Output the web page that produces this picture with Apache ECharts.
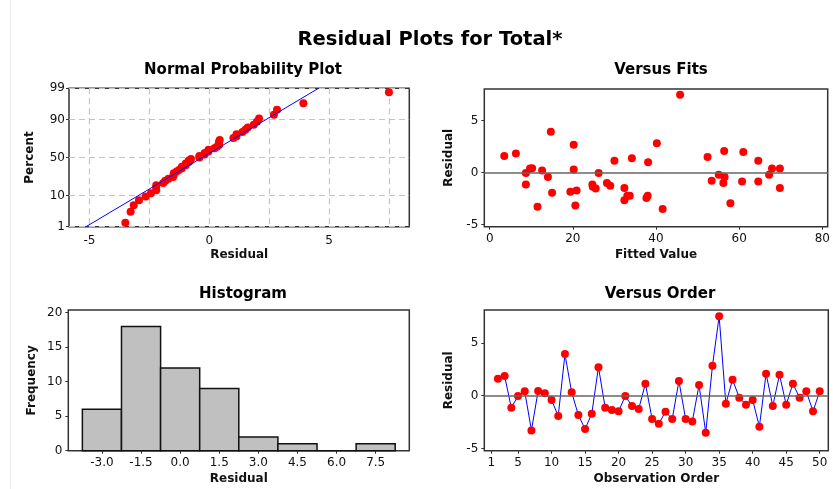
<!DOCTYPE html>
<html>
<head>
<meta charset="utf-8">
<script src="https://cdn.jsdelivr.net/npm/echarts@6/dist/echarts.min.js"></script>
<style>
  html, body { margin: 0; padding: 0; background: #fff; }
  #main { width: 833px; height: 489px; }
</style>
</head>
<body>
<div id="main"></div>
<script>
// observation numbers, residuals and fitted values
const obsOrder = [2, 3, 4, 5, 6, 7, 8, 9, 10, 11, 12, 13, 14, 15, 16, 17, 18, 19, 20, 21,
  22, 23, 24, 25, 26, 27, 28, 29, 30, 31, 32, 33, 34, 35, 36, 37, 38, 39, 40, 41,
  42, 43, 44, 45, 46, 47, 48, 49, 50];
const residuals = [1.61, 1.86, -1.14, -0.03, 0.41, -3.28, 0.44, 0.22, -0.41, -1.92,
  3.93, 0.32, -1.83, -3.15, -1.70, 2.70, -1.14, -1.36, -1.48, -0.03,
  -0.98, -1.26, 1.14, -2.21, -2.65, -1.51, -2.21, 1.39, -2.21, -2.43,
  1.01, -3.50, 2.83, 7.50, -0.76, 1.51, -0.19, -0.85, -0.41, -2.93,
  2.08, -0.98, 1.99, -0.85, 1.14, -0.19, 0.41, -1.48, 0.41];
const fitted = [3.5, 6.3, 8.7, 8.7, 9.7, 11.5, 10.2, 12.6, 14.0, 15.0,
  14.7, 20.2, 19.4, 20.6, 20.9, 20.2, 24.7, 24.8, 32.4, 26.2,
  28.2, 29.0, 30.0, 33.1, 32.4, 25.5, 33.7, 34.2, 38.0, 37.7,
  38.1, 41.6, 40.2, 45.8, 53.4, 52.4, 55.1, 60.7, 56.5, 57.9,
  56.4, 56.2, 61.0, 64.6, 64.6, 67.2, 67.9, 69.8, 69.8];

// histogram
const histBins = [-3.0, -1.5, 0.0, 1.5, 3.0, 4.5, 6.0, 7.5];
const histCounts = [6, 18, 12, 9, 2, 1, 0, 1];
const binWidth = 1.5;

// normal probability plot
const percentTicks = [1, 10, 50, 90, 99];
const normalLine = [[-5.14, 1], [4.56, 99]]; // fitted line ends, [residual, percent]

// tick labels
const normXTicks = [-5, 0, 5];
const normXGrid = [-5, -2.5, 0, 2.5, 5, 7.5];
const fitsXTicks = [0, 20, 40, 60, 80];
const resTicks = [-5, 0, 5];
const histYTicks = [0, 5, 10, 15, 20];
const orderTicks = [1, 5, 10, 15, 20, 25, 30, 35, 40, 45, 50];

// inverse normal cdf (Acklam)
function qnorm(p) {
  const a = [-39.69683028665376, 220.9460984245205, -275.9285104469687, 138.3577518672690, -30.66479806614716, 2.506628277459239];
  const b = [-54.47609879822406, 161.5858368580409, -155.6989798598866, 66.80131188771972, -13.28068155288572];
  const c = [-0.007784894002430293, -0.3223964580411365, -2.400758277161838, -2.549732539343734, 4.374664141464968, 2.938163982698783];
  const d = [0.007784695709041462, 0.3224671290700398, 2.445134137142996, 3.754408145803774];
  const pl = 0.02425;
  let q, r;
  if (p < pl) {
    q = Math.sqrt(-2 * Math.log(p));
    return (((((c[0] * q + c[1]) * q + c[2]) * q + c[3]) * q + c[4]) * q + c[5]) / ((((d[0] * q + d[1]) * q + d[2]) * q + d[3]) * q + 1);
  }
  if (p > 1 - pl) {
    q = Math.sqrt(-2 * Math.log(1 - p));
    return -(((((c[0] * q + c[1]) * q + c[2]) * q + c[3]) * q + c[4]) * q + c[5]) / ((((d[0] * q + d[1]) * q + d[2]) * q + d[3]) * q + 1);
  }
  q = p - 0.5; r = q * q;
  return (((((a[0] * r + a[1]) * r + a[2]) * r + a[3]) * r + a[4]) * r + a[5]) * q / (((((b[0] * r + b[1]) * r + b[2]) * r + b[3]) * r + b[4]) * r + 1);
}

const n = residuals.length;
const sorted = residuals.slice().sort((x, y) => x - y);
// median rank plotting positions
const normPoints = sorted.map((v, i) => [v, qnorm((i + 1 - 0.3) / (n + 0.4))]);
const zTicks = percentTicks.map(p => qnorm(p / 100));
const linePoints = normalLine.map(([x, p]) => [x, qnorm(p / 100)]);

const fitsPoints = fitted.map((f, i) => [f, residuals[i]]);
const orderPoints = obsOrder.map((o, i) => [o, residuals[i]]);
const histData = histBins.map((b, i) => [b, histCounts[i]]);

const font = 'DejaVu Sans, Verdana, sans-serif';
const txt = '#111';
const red = '#ff0000';
const blue = '#0000ff';

function gridBox(left, top, width, height) {
  return { left, top, width, height, show: true, borderColor: '#333', borderWidth: 1.5, backgroundColor: '#fff', containLabel: false };
}

function valueAxis(opt) {
  return {
    type: 'value',
    gridIndex: opt.grid,
    min: opt.min,
    max: opt.max,
    name: opt.name,
    nameLocation: 'middle',
    nameGap: opt.nameGap,
    nameTextStyle: { fontFamily: font, fontSize: 12, fontWeight: 'bold', color: txt },
    axisLine: { show: false, onZero: false },
    axisTick: { show: opt.tickShow !== false, length: 3, inside: false, customValues: opt.tickValues || opt.labels, lineStyle: { color: '#333' } },
    axisLabel: {
      customValues: opt.labels,
      fontFamily: font, fontSize: 12, color: txt, margin: opt.margin || 6,
      formatter: opt.formatter || (v => String(v))
    },
    splitLine: opt.split ? { show: true, lineStyle: { color: '#c4c4c4', type: [6, 4], width: 1.2 } } : { show: false }
  };
}

const chart = echarts.init(document.getElementById('main'), null, { renderer: 'canvas' });

const option = {
  animation: false,
  backgroundColor: '#fff',
  graphic: [
    { type: 'line', shape: { x1: 10.5, y1: 0, x2: 10.5, y2: 489 }, style: { stroke: '#ececec', lineWidth: 1 }, silent: true }
  ],
  title: [
    { text: 'Residual Plots for Total*', left: 425, top: 25, textAlign: 'center',
      textStyle: { fontFamily: font, fontSize: 19.5, fontWeight: 'bold', color: '#000' } },
    { text: 'Normal Probability Plot', left: 238, top: 58, textAlign: 'center',
      textStyle: { fontFamily: font, fontSize: 15, fontWeight: 'bold', color: '#000' } },
    { text: 'Versus Fits', left: 656, top: 58, textAlign: 'center',
      textStyle: { fontFamily: font, fontSize: 15, fontWeight: 'bold', color: '#000' } },
    { text: 'Histogram', left: 238, top: 282, textAlign: 'center',
      textStyle: { fontFamily: font, fontSize: 15, fontWeight: 'bold', color: '#000' } },
    { text: 'Versus Order', left: 655, top: 282, textAlign: 'center',
      textStyle: { fontFamily: font, fontSize: 15, fontWeight: 'bold', color: '#000' } }
  ],
  grid: [
    gridBox(69, 88.3, 340.3, 138.4),
    gridBox(484.3, 89, 343.4, 137.7),
    gridBox(68.3, 310, 341, 140.7),
    gridBox(484.3, 310, 344, 140.7)
  ],
  xAxis: [
    valueAxis({ grid: 0, min: -5.85, max: 8.35, name: 'Residual', nameGap: 22, labels: normXTicks, tickValues: normXGrid, tickShow: false, split: true, margin: 8 }),
    valueAxis({ grid: 1, min: -1.3, max: 81.3, name: 'Fitted Value', nameGap: 22, labels: fitsXTicks }),
    valueAxis({ grid: 2, min: -4.29, max: 8.79, name: 'Residual', nameGap: 22, labels: histBins, formatter: v => v.toFixed(1) }),
    valueAxis({ grid: 3, min: -0.03, max: 51.28, name: 'Observation Order', nameGap: 22, labels: orderTicks })
  ],
  yAxis: [
    valueAxis({ grid: 0, min: zTicks[0], max: zTicks[zTicks.length - 1], name: 'Percent', nameGap: 33, labels: zTicks, split: true, margin: 4,
      formatter: v => {
        const i = zTicks.findIndex(z => Math.abs(z - v) < 1e-6);
        return i >= 0 ? String(percentTicks[i]) : '';
      } }),
    valueAxis({ grid: 1, min: -5.19, max: 8.05, name: 'Residual', nameGap: 29, labels: resTicks }),
    valueAxis({ grid: 2, min: 0, max: 20.39, name: 'Frequency', nameGap: 30, labels: histYTicks }),
    valueAxis({ grid: 3, min: -5.2, max: 8.1, name: 'Residual', nameGap: 29, labels: resTicks })
  ],
  series: [
    {
      type: 'line', xAxisIndex: 0, yAxisIndex: 0, data: linePoints,
      symbol: 'none', lineStyle: { color: blue, width: 1 }, silent: true
    },
    {
      type: 'scatter', xAxisIndex: 0, yAxisIndex: 0, data: normPoints,
      symbol: 'circle', symbolSize: 8, itemStyle: { color: red, opacity: 1 }
    },
    {
      type: 'scatter', xAxisIndex: 1, yAxisIndex: 1, data: fitsPoints,
      symbol: 'circle', symbolSize: 8, itemStyle: { color: red, opacity: 1 },
      markLine: {
        silent: true, symbol: 'none', label: { show: false },
        lineStyle: { color: '#666', width: 1.5, type: 'solid' },
        data: [{ yAxis: 0 }]
      }
    },
    {
      type: 'custom', xAxisIndex: 2, yAxisIndex: 2, data: histData,
      renderItem: function (params, api) {
        const c = api.value(0), h = api.value(1);
        const p0 = api.coord([c - binWidth / 2, h]);
        const p1 = api.coord([c + binWidth / 2, 0]);
        return {
          type: 'rect',
          shape: { x: p0[0], y: p0[1], width: p1[0] - p0[0], height: p1[1] - p0[1] },
          style: { fill: '#c0c0c0', stroke: '#111', lineWidth: 1.5 }
        };
      }
    },
    {
      type: 'line', xAxisIndex: 3, yAxisIndex: 3, data: orderPoints,
      symbol: 'circle', symbolSize: 8, showAllSymbol: true,
      lineStyle: { color: blue, width: 1 },
      itemStyle: { color: red },
      markLine: {
        silent: true, symbol: 'none', label: { show: false },
        lineStyle: { color: '#666', width: 1.5, type: 'solid' },
        data: [{ yAxis: 0 }]
      },
      z: 3
    }
  ]
};

chart.setOption(option);
</script>
</body>
</html>
